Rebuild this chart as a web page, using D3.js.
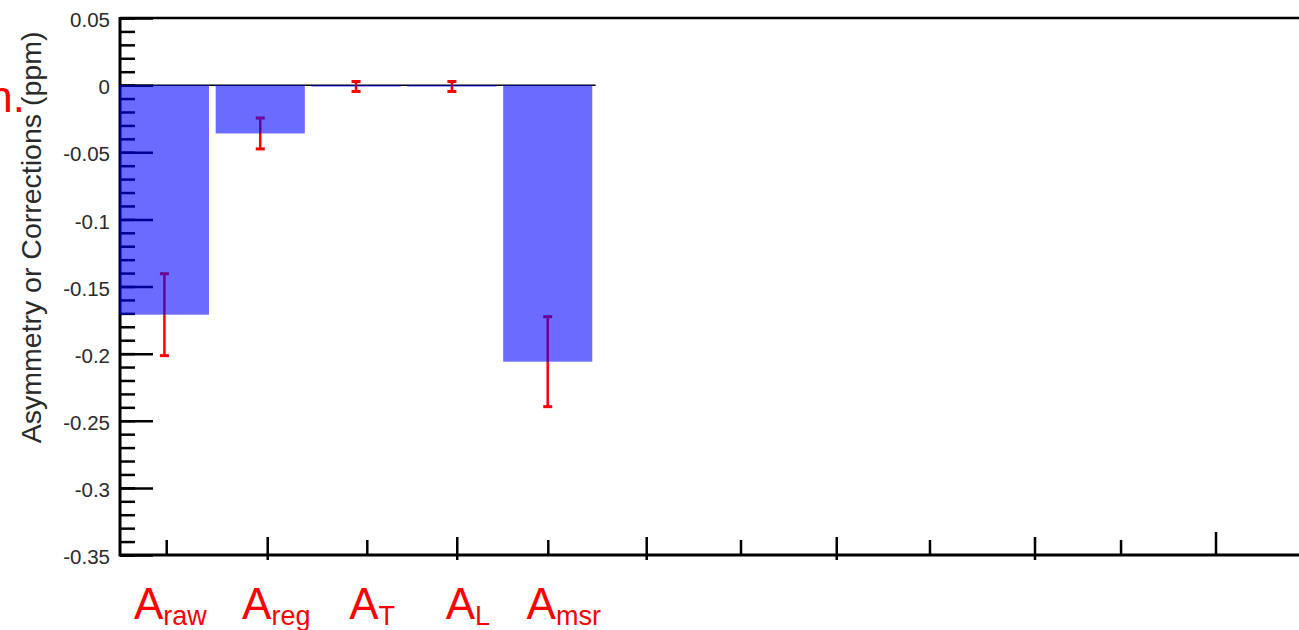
<!DOCTYPE html>
<html>
<head>
<meta charset="utf-8">
<script src="https://cdn.jsdelivr.net/npm/d3@7"></script>
<style>
  html, body { margin: 0; padding: 0; background: #fff; }
  svg { display: block; font-family: "Liberation Sans", Arial, Helvetica, sans-serif; }
</style>
</head>
<body>
<svg id="chart" width="1299" height="630"></svg>
<script>
// Measured asymmetry and the corrections applied to it (ppm)
const categories = ["raw", "reg", "T", "L", "msr"];
const values = [-0.171, -0.036, -0.001, -0.001, -0.206];
const errors = [0.0305, 0.0115, 0.0037, 0.0037, 0.0335];

// Y axis ticks
const yMajorTicks = [0.05, 0, -0.05, -0.1, -0.15, -0.2, -0.25, -0.3, -0.35];
const yTickLabels = ["0.05", "0", "-0.05", "-0.1", "-0.15", "-0.2", "-0.25", "-0.3", "-0.35"];
const yMinorTicks = d3.range(-35, 6).map(d => d / 100);

// Bottom axis tick marks (in bin units) of three lengths
const xShortTicks = [0.524, 2.617, 4.506, 6.517, 8.489, 10.483];
const xLongTicks = [1.578, 3.556, 5.533, 7.516, 9.585];
const xEndTicks = [11.474];

(function draw() {
  const svg = d3.select("#chart");
  const plotL = 120, plotR = 1299, plotT = 18, plotB = 555;

  const y = d3.scaleLinear().domain([-0.35, 0.05]).range([plotB, plotT]);
  const x = d3.scaleLinear().domain([0, 12.34]).range([116.5, 1299]);
  const barW = x(0.93) - x(0);
  const cx = i => x(i + 0.5);

  // Zero reference line
  svg.append("line")
    .attr("x1", plotL).attr("x2", x(categories.length))
    .attr("y1", y(0)).attr("y2", y(0))
    .attr("stroke", "#000").attr("stroke-width", 1.5);

  // Y axis: minor and major inward ticks
  const yMinor = d3.axisLeft(y).tickValues(yMinorTicks).tickSize(-15).tickFormat("");
  svg.append("g").attr("transform", `translate(${plotL},0)`).call(yMinor)
    .call(g => g.select(".domain").remove())
    .call(g => g.selectAll("line").attr("stroke", "#000").attr("stroke-width", 2.5));

  const yMajor = d3.axisLeft(y).tickValues(yMajorTicks).tickSize(-33).tickPadding(10)
    .tickFormat((d, i) => yTickLabels[i]);
  svg.append("g").attr("transform", `translate(${plotL},0)`).call(yMajor)
    .call(g => g.select(".domain").remove())
    .call(g => g.selectAll("line").attr("stroke", "#000").attr("stroke-width", 2.5))
    .call(g => g.selectAll("text")
      .attr("font-size", 20.5).attr("fill", "#2b2b2b")
      .attr("font-family", "'Liberation Sans', Arial, sans-serif")
      .attr("dy", "0.42em"));

  // Frame lines
  svg.append("line").attr("x1", plotL).attr("x2", plotR).attr("y1", plotT).attr("y2", plotT)
    .attr("stroke", "#000").attr("stroke-width", 2.5);
  svg.append("line").attr("x1", plotL).attr("x2", plotL).attr("y1", plotT - 1).attr("y2", plotB + 1.5)
    .attr("stroke", "#000").attr("stroke-width", 3);
  svg.append("line").attr("x1", plotL).attr("x2", plotR).attr("y1", plotB).attr("y2", plotB)
    .attr("stroke", "#000").attr("stroke-width", 3);

  // Bottom axis tick marks
  const tickGroup = svg.append("g").attr("stroke", "#000").attr("stroke-width", 2.5);
  tickGroup.selectAll(".ts").data(xShortTicks).join("line").attr("class", "ts")
    .attr("x1", d => x(d)).attr("x2", d => x(d)).attr("y1", plotB).attr("y2", plotB - 15);
  tickGroup.selectAll(".tl").data(xLongTicks).join("line").attr("class", "tl")
    .attr("x1", d => x(d)).attr("x2", d => x(d)).attr("y1", plotB + 5).attr("y2", plotB - 18);
  tickGroup.selectAll(".te").data(xEndTicks).join("line").attr("class", "te")
    .attr("x1", d => x(d)).attr("x2", d => x(d)).attr("y1", plotB).attr("y2", plotB - 23);

  // Error bars (drawn below the translucent bars)
  const eb = svg.append("g").attr("stroke", "#ff0000");
  categories.forEach((c, i) => {
    const g = eb.append("g");
    const hi = y(values[i] + errors[i]), lo = y(values[i] - errors[i]);
    g.append("line").attr("x1", cx(i)).attr("x2", cx(i)).attr("y1", hi).attr("y2", lo)
      .attr("stroke-width", 2.5);
    [hi, lo].forEach(v => g.append("line")
      .attr("x1", cx(i) - 4.5).attr("x2", cx(i) + 4.5).attr("y1", v).attr("y2", v)
      .attr("stroke-width", 3));
  });

  // Bars
  svg.append("g").selectAll("rect").data(values).join("rect")
    .attr("x", (d, i) => cx(i) - barW / 2)
    .attr("width", barW)
    .attr("y", d => y(Math.max(0, d)))
    .attr("height", d => Math.max(1.5, Math.abs(y(d) - y(0))))
    .attr("fill", "rgba(0,0,255,0.58)");

  // Category labels: A with subscript
  const lab = svg.append("g").attr("fill", "#ff0000");
  categories.forEach((c, i) => {
    const t = lab.append("text")
      .attr("x", cx(i) + (i === 0 ? 6 : 16)).attr("y", 619)
      .attr("text-anchor", "middle")
      .attr("font-family", "'Liberation Sans', Arial, sans-serif");
    t.append("tspan").attr("font-size", 44).text("A");
    t.append("tspan").attr("font-size", 27).attr("dy", 6).text(c);
  });

  // Y axis title
  svg.append("text")
    .attr("transform", `translate(41,${(28 + 447) / 2}) rotate(-90)`)
    .attr("text-anchor", "middle")
    .attr("font-size", 28.5).attr("fill", "#2a2a2a")
    .text("Asymmetry or Corrections (ppm)");

  // Trailing annotation fragment at the left edge
  svg.append("text")
    .attr("x", 25).attr("y", 112)
    .attr("text-anchor", "end")
    .attr("font-size", 44).attr("fill", "#ff0000")
    .text("n.");
})();
</script>
</body>
</html>
